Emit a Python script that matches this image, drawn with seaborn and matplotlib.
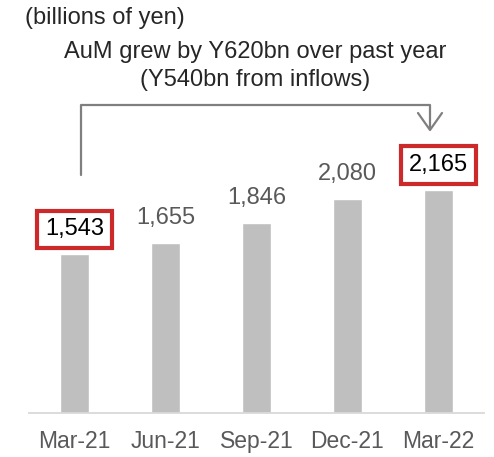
import matplotlib
matplotlib.use("Agg")
import matplotlib.pyplot as plt
from matplotlib.lines import Line2D
import seaborn as sns
import pandas as pd

# data
quarters = ["Mar-21", "Jun-21", "Sep-21", "Dec-21", "Mar-22"]
aum = [1543, 1655, 1846, 2080, 2165]
boxed = [True, False, False, False, True]

sns.set_style("white")
plt.rcParams["font.family"] = ["Liberation Sans", "DejaVu Sans"]

W, H = 494, 457
fig = plt.figure(figsize=(W / 100, H / 100), dpi=100)
ax = fig.add_axes([29 / W, 44 / H, 455 / W, 413 / H])

df = pd.DataFrame({"q": quarters, "aum": aum})
sns.barplot(data=df, x="q", y="aum", color="#bfbfbf", width=0.31,
            saturation=1, ax=ax)

ax.set_xlim(-0.5, 4.5)
ax.set_ylim(0, 4010)
ax.set_xlabel("")
ax.set_ylabel("")
ax.set_yticks([])
for s in ["top", "left", "right"]:
    ax.spines[s].set_visible(False)
ax.spines["bottom"].set_color("#d9d9d9")
ax.spines["bottom"].set_linewidth(1.3)
ax.tick_params(axis="x", length=0, pad=12, labelsize=16.5, labelcolor="#595959")

# value labels
for i, (v, b) in enumerate(zip(aum, boxed)):
    kw = {}
    if b:
        kw["bbox"] = dict(boxstyle="square,pad=0.32", fc="white",
                          ec="#cc2a2a", lw=3)
    ax.annotate(f"{v:,}", (i, v), xytext=(0, 18), textcoords="offset points",
                ha="center", va="center", fontsize=17,
                color="black" if b else "#595959", **kw)

# texts on top
def fx(x):
    return x / W

def fy(y):
    return 1 - y / H

fig.text(fx(25), fy(18), "(billions of yen)", fontsize=17, ha="left", va="center")
fig.text(fx(255), fy(52), "AuM grew by Y620bn over past year", fontsize=17,
         ha="center", va="center")
fig.text(fx(255), fy(80), "(Y540bn from inflows)", fontsize=17,
         ha="center", va="center")

# bracket with arrow
gray = "#7f7f7f"
bx = [81, 81, 430, 430]
by = [175, 105, 105, 129]
fig.add_artist(Line2D([fx(x) for x in bx], [fy(y) for y in by],
                      color=gray, lw=1.6, transform=fig.transFigure))
hx = [418, 430, 442]
hy = [113, 130, 113]
fig.add_artist(Line2D([fx(x) for x in hx], [fy(y) for y in hy],
                      color=gray, lw=1.6, transform=fig.transFigure))

fig.savefig("out.png", dpi=100)
